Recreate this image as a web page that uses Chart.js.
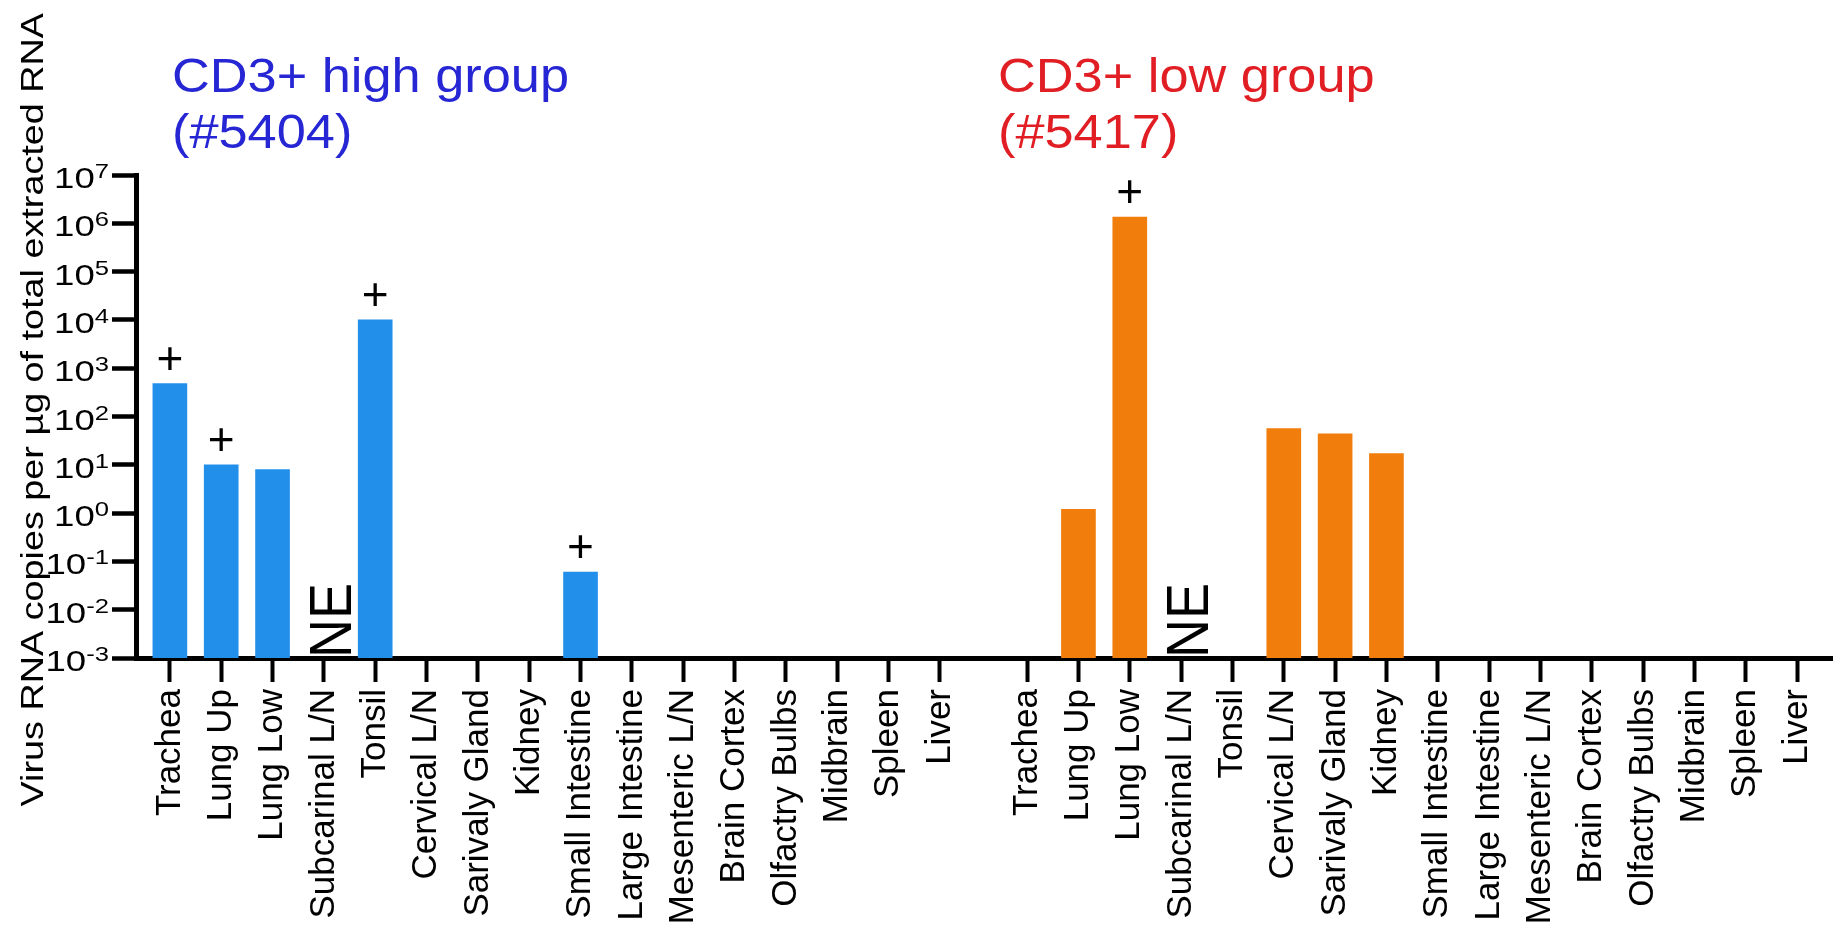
<!DOCTYPE html>
<html>
<head>
<meta charset="utf-8">
<title>Virus RNA copies by tissue</title>
<script src="https://cdn.jsdelivr.net/npm/chart.js@4.4.0/dist/chart.umd.min.js"></script>
<style>
  html, body { margin: 0; padding: 0; background: #ffffff; }
  #wrap { position: relative; width: 1844px; height: 941px; }
</style>
</head>
<body>
<div id="wrap"><canvas id="chart"></canvas></div>
<script>
// Tissues sampled in each animal
const highTissues = ['Trachea', 'Lung Up', 'Lung Low', 'Subcarinal L/N', 'Tonsil', 'Cervical L/N',
  'Sarivaly Gland', 'Kidney', 'Small Intestine', 'Large Intestine', 'Mesenteric L/N',
  'Brain Cortex', 'Olfactry Bulbs', 'Midbrain', 'Spleen', 'Liver'];
const lowTissues = ['Trachea', 'Lung Up', 'Lung Low', 'Subcarinal L/N', 'Tonsil', 'Cervical L/N',
  'Sarivaly Gland', 'Kidney', 'Small Intestine', 'Large Intestine', 'Mesenteric L/N',
  'Brain Cortex', 'Olfactry Bulbs', 'Midbrain', 'Spleen', 'Liver'];

// Virus RNA copies per µg of total extracted RNA (null = no bar)
const highValues = [480, 10, 8, null, 10000, null, null, null, 0.06, null, null, null, null, null, null, null];
const lowValues  = [null, 1.2, 1.35e6, null, null, 56, 44, 17, null, null, null, null, null, null, null, null];

// Tissues flagged with "+" and tissues not examined ("NE")
const highPlus = ['Trachea', 'Lung Up', 'Tonsil', 'Small Intestine'];
const lowPlus = ['Lung Low'];
const highNE = ['Subcarinal L/N'];
const lowNE = ['Subcarinal L/N'];

// Decades shown on the log axis (10^-3 … 10^7)
const decades = [-3, -2, -1, 0, 1, 2, 3, 4, 5, 6, 7];

const highTitle = ['CD3+ high group', '(#5404)'];
const lowTitle = ['CD3+ low group', '(#5417)'];
const yTitle = 'Virus RNA copies per µg of total extracted RNA';

// ---- x placement: tissues one unit apart, the two animals separated by a wider gap ----
const groupGap = 1.7;          // distance between last tissue of group 1 and first of group 2
const edgeLeft = 0.66;         // room between axis origin and first tissue
const edgeRight = 0.68;        // room after the last tissue
const highPos = highTissues.map((_, i) => i);
const lowPos = lowTissues.map((_, j) => highTissues.length - 1 + groupGap + j);
const tickPositions = [...highPos, ...lowPos];
const tickLabels = [...highTissues, ...lowTissues];

const highData = highValues.map((v, i) => ({ x: highPos[i], y: v }));
const lowData = lowValues.map((v, j) => ({ x: lowPos[j], y: v }));

const FONT = '"Liberation Sans", Arial, Helvetica, sans-serif';

const annotate = {
  id: 'annotate',
  afterDraw(chart) {
    const ctx = chart.ctx;
    const xs = chart.scales.x;
    const ys = chart.scales.y;
    ctx.save();
    ctx.fillStyle = '#000';

    // y-axis decade labels: "10" with a raised exponent
    ys.ticks.forEach(t => {
      const e = Math.round(Math.log10(t.value));
      const y = ys.getPixelForValue(t.value);
      const right = 109;
      const sx = 1.22;
      ctx.font = `21px ${FONT}`;
      const expText = String(e);
      const ew = ctx.measureText(expText).width * sx;
      ctx.save();
      ctx.translate(right, y + 3);
      ctx.scale(sx, 1);
      ctx.textAlign = 'right';
      ctx.textBaseline = 'alphabetic';
      ctx.fillText(expText, 0, 0);
      ctx.restore();
      ctx.save();
      ctx.font = `30px ${FONT}`;
      ctx.translate(right - ew, y + 13);
      ctx.scale(sx, 1);
      ctx.textAlign = 'right';
      ctx.fillText('10', 0, 0);
      ctx.restore();
    });

    // y-axis title, rotated
    ctx.save();
    ctx.font = `32px ${FONT}`;
    ctx.translate(43, 13);
    ctx.rotate(-Math.PI / 2);
    ctx.scale(1.18, 1);
    ctx.textAlign = 'right';
    ctx.textBaseline = 'alphabetic';
    ctx.fillText(yTitle, 0, 0);
    ctx.restore();

    // group titles
    const drawTitle = (lines, x, color) => {
      ctx.save();
      ctx.fillStyle = color;
      ctx.font = `48px ${FONT}`;
      ctx.textAlign = 'left';
      ctx.textBaseline = 'alphabetic';
      lines.forEach((line, k) => {
        ctx.save();
        ctx.translate(x, 92 + k * 56);
        ctx.scale(1.09, 1);
        ctx.fillText(line, 0, 0);
        ctx.restore();
      });
      ctx.restore();
    };
    drawTitle(highTitle, 172, '#2626d4');
    drawTitle(lowTitle, 998, '#e01e24');

    // "NE" markers, rotated, standing on the x axis
    const drawNE = (names, tissues, positions) => {
      names.forEach(name => {
        const x = xs.getPixelForValue(positions[tissues.indexOf(name)]);
        ctx.save();
        ctx.font = `54px ${FONT}`;
        ctx.translate(x + 27, xs.top);
        ctx.rotate(-Math.PI / 2);
        ctx.scale(1, 1.1);
        ctx.textAlign = 'left';
        ctx.textBaseline = 'alphabetic';
        ctx.fillText('NE', 0, 0);
        ctx.restore();
      });
    };
    drawNE(highNE, highTissues, highPos);
    drawNE(lowNE, lowTissues, lowPos);

    // "+" above flagged bars
    const drawPlus = (names, tissues, dsIndex) => {
      const meta = chart.getDatasetMeta(dsIndex);
      names.forEach(name => {
        const bar = meta.data[tissues.indexOf(name)];
        if (!bar) return;
        ctx.save();
        ctx.font = `46px ${FONT}`;
        ctx.textAlign = 'center';
        ctx.textBaseline = 'alphabetic';
        ctx.fillText('+', bar.x, bar.y - 10);
        ctx.restore();
      });
    };
    drawPlus(highPlus, highTissues, 0);
    drawPlus(lowPlus, lowTissues, 1);

    ctx.restore();
  }
};

new Chart(document.getElementById('chart'), {
  type: 'bar',
  data: {
    datasets: [
      {
        label: highTitle.join(' '),
        data: highData,
        backgroundColor: '#2290ea',
        grouped: false,
        barThickness: 34
      },
      {
        label: lowTitle.join(' '),
        data: lowData,
        backgroundColor: '#f07d0c',
        grouped: false,
        barThickness: 34
      }
    ]
  },
  options: {
    responsive: true,
    maintainAspectRatio: false,
    animation: false,
    layout: { padding: { top: 175, right: 12, left: 0, bottom: 0 } },
    plugins: { legend: { display: false }, tooltip: { enabled: false } },
    scales: {
      x: {
        type: 'linear',
        offset: false,
        min: highPos[0] - edgeLeft,
        max: lowPos[lowPos.length - 1] + edgeRight,
        afterBuildTicks(s) { s.ticks = tickPositions.map(v => ({ value: v })); },
        grid: {
          offset: false,
          drawOnChartArea: false,
          drawTicks: true,
          tickLength: 24,
          tickWidth: 4,
          tickColor: '#000'
        },
        border: { display: true, color: '#000', width: 5 },
        ticks: {
          autoSkip: false,
          maxRotation: 90,
          minRotation: 90,
          padding: 7,
          color: '#000',
          font: { family: FONT, size: 35 },
          callback: (v, i) => tickLabels[i]
        },
        afterFit(s) { s.height = 283; s.paddingLeft = 0; s.paddingRight = 0; }
      },
      y: {
        type: 'logarithmic',
        min: Math.pow(10, decades[0]),
        max: Math.pow(10, decades[decades.length - 1]),
        afterBuildTicks(s) { s.ticks = decades.map(e => ({ value: Math.pow(10, e) })); },
        grid: {
          drawOnChartArea: false,
          drawTicks: true,
          tickLength: 24,
          tickWidth: 4.5,
          tickColor: '#000'
        },
        border: { display: true, color: '#000', width: 5 },
        ticks: { callback: () => '', padding: 0 },
        afterFit(s) { s.width = 136; s.paddingTop = 0; s.paddingBottom = 0; }
      }
    }
  },
  plugins: [annotate]
});
</script>
</body>
</html>
